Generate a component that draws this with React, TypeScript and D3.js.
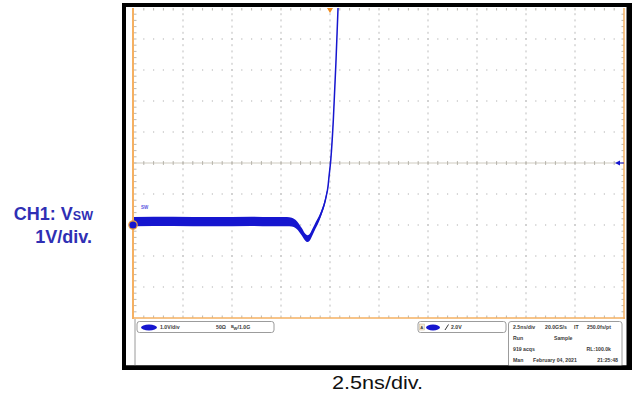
import React from 'react';
import * as d3 from 'd3';

const W = 632;
const H = 396;

// Horizontal scale: 10 divisions at 2.5 ns/div, trigger 4 divisions from the left edge
const timeDomain = [-10, 15];
// Vertical scale: 10 divisions at 1 V/div, ground 3 divisions above the bottom
const voltDomain = [-3, 7];

// V_SW trace: time (ns), mean level (V) and half-width of the noise band (V)
const traceTime = [-10, -8, -6, -4, -3, -2.2, -1.95, -1.7, -1.44, -1.28, -1.15, -1.05, -0.93, -0.8, -0.68, -0.55, -0.42, -0.3, -0.2, -0.1, -0.05, 0.04, 0.17, 0.3, 0.41, 0.5];
const traceLevel = [0.11, 0.12, 0.11, 0.12, 0.11, 0.11, 0.09, 0.0, -0.22, -0.38, -0.44, -0.41, -0.27, -0.1, 0.05, 0.22, 0.43, 0.65, 0.91, 1.25, 1.56, 2.1, 3.39, 5.2, 7.0, 8.4];
const traceSpread = [0.15, 0.15, 0.15, 0.15, 0.15, 0.15, 0.14, 0.13, 0.12, 0.11, 0.11, 0.11, 0.11, 0.1, 0.1, 0.09, 0.08, 0.08, 0.07, 0.06, 0.05, 0.04, 0.03, 0.03, 0.03, 0.03];

const groundLevel = 0; // V
const triggerLevel = 2.0; // V
const triggerTime = 0; // ns

const channelLabel = 'CH1: V';
const channelSub = 'SW';
const scaleLabel = '1V/div.';
const timeLabel = '2.5ns/div.';

const chanBadge = ['1.0V/div', '50Ω', '/1.0G'];
const trigBadge = '2.0V';
const acqRow1 = ['2.5ns/div', '20.0GS/s', 'IT', '250.0fs/pt'];
const acqRow2 = ['Run', 'Sample'];
const acqRow3 = ['919 acqs', 'RL:100.0k'];
const acqRow4 = ['Man', 'February 04, 2021', '21:25:48'];

const BLUE = '#1616cf';
const ORANGE = '#f5b062';
const GRID = '#bdbdbd';
const LABEL = '#2f2fb4';
const INFO = '#3a3a3a';

export default function App() {
  const left = 134, right = 624, top = 8, bottom = 318;
  const x = d3.scaleLinear().domain(timeDomain).range([left, right]);
  const y = d3.scaleLinear().domain(voltDomain).range([bottom, top]);

  const rows = traceTime.map((t, i) => ({ t, v: traceLevel[i], s: traceSpread[i] }));
  const band = d3.area<any>()
    .x(d => x(d.t))
    .y0(d => y(d.v - d.s))
    .y1(d => y(d.v + d.s))
    .curve(d3.curveMonotoneX)(rows) || '';
  const mid = d3.line<any>()
    .x(d => x(d.t))
    .y(d => y(d.v))
    .curve(d3.curveMonotoneX)(rows) || '';

  const majorT = d3.range(timeDomain[0] + 2.5, timeDomain[1], 2.5);
  const majorV = d3.range(voltDomain[0] + 1, voltDomain[1], 1);
  const minorT = d3.range(timeDomain[0], timeDomain[1] + 0.001, 0.5);
  const minorV = d3.range(voltDomain[0], voltDomain[1] + 0.001, 0.2);
  const centerV = 2;

  const grid: React.ReactNode[] = [];
  majorV.forEach((v, i) => {
    if (Math.abs(v - centerV) < 1e-6) return;
    minorT.slice(1, -1).forEach((t, j) => {
      grid.push(<rect key={`h${i}-${j}`} x={x(t) - 0.6} y={y(v) - 0.6} width={1.2} height={1.2} fill={GRID} />);
    });
  });
  majorT.forEach((t, i) => {
    minorV.slice(1, -1).forEach((v, j) => {
      grid.push(<rect key={`v${i}-${j}`} x={x(t) - 0.5} y={y(v) - 1} width={1} height={2} fill={GRID} />);
    });
  });

  const ticks: React.ReactNode[] = [];
  minorT.slice(1, -1).forEach((t, j) => {
    const xx = x(t);
    ticks.push(<line key={`tt${j}`} x1={xx} x2={xx} y1={top} y2={top + 2.5} />);
    ticks.push(<line key={`tb${j}`} x1={xx} x2={xx} y1={bottom} y2={bottom - 2.5} />);
    ticks.push(<line key={`tc${j}`} x1={xx} x2={xx} y1={y(centerV) - 2} y2={y(centerV) + 2} />);
  });
  minorV.slice(1, -1).forEach((v, j) => {
    const yy = y(v);
    ticks.push(<line key={`tl${j}`} x1={left} x2={left + 2.5} y1={yy} y2={yy} />);
    ticks.push(<line key={`tr${j}`} x1={right} x2={right - 2.5} y1={yy} y2={yy} />);
  });

  const gx = left - 1;
  const gy = y(groundLevel);
  const ty = y(triggerLevel);
  const tx = x(triggerTime);

  const info = { fontFamily: 'Liberation Sans, Arial, sans-serif', fontSize: 5.2, fontWeight: 700, fill: INFO } as const;

  return (
    <svg width={W} height={H} viewBox={`0 0 ${W} ${H}`} style={{ position: 'absolute', left: 0, top: 0, background: '#fff' }}>
      <defs>
        <clipPath id="plotClip">
          <rect x={left} y={top} width={right - left} height={bottom - top} />
        </clipPath>
      </defs>

      {/* scope frame */}
      <rect x={122} y={3} width={510} height={367} fill="#000" />
      <rect x={126} y={7} width={500.5} height={358.5} fill="#fff" />

      {/* graticule */}
      <g>{grid}</g>
      <line x1={left} x2={right} y1={y(centerV)} y2={y(centerV)} stroke="#cfcbc0" strokeWidth={1} />
      <g stroke="#a9a69c" strokeWidth={0.8}>{ticks}</g>

      {/* trace */}
      <g clipPath="url(#plotClip)">
        <path d={band} fill={BLUE} />
        <path d={mid} fill="none" stroke={BLUE} strokeWidth={1.5} />
      </g>

      {/* plot border */}
      <line x1={left - 1} x2={left - 1} y1={top} y2={bottom + 1} stroke={ORANGE} strokeWidth={2} />
      <line x1={right} x2={right} y1={top} y2={bottom + 1} stroke={ORANGE} strokeWidth={1.5} />
      <line x1={left - 2} x2={right + 1} y1={bottom} y2={bottom} stroke={ORANGE} strokeWidth={1.5} />

      {/* trigger position and level markers */}
      <path d={`M${tx - 3},${top} L${tx + 3},${top} L${tx},${top + 5} Z`} fill="#f08a1c" />
      <path d={`M${right - 9},${ty} L${right - 4},${ty - 2.5} L${right - 4},${ty + 2.5} Z`} fill={BLUE} />
      <line x1={right - 5} x2={right} y1={ty} y2={ty} stroke={BLUE} strokeWidth={1} />

      {/* channel ground marker */}
      <circle cx={gx} cy={gy} r={4.2} fill={BLUE} stroke="#f0a23a" strokeWidth={1.2} />
      <text x={141} y={209} fontFamily="Liberation Sans, Arial, sans-serif" fontSize={4.5} fontWeight={700} fill="#5a5ae0">SW</text>

      {/* info panel */}
      <line x1={135} x2={135} y1={bottom + 1} y2={366} stroke="#9a9a9a" strokeWidth={1} />
      <rect x={137} y={321.5} width={137} height={11} rx={2.5} fill="#fff" stroke="#9c9c9c" strokeWidth={1} />
      <ellipse cx={149} cy={327.5} rx={8} ry={2.9} fill={BLUE} />
      <text {...info} x={160} y={329.4}>{chanBadge[0]}</text>
      <text {...info} x={216} y={329.4}>{chanBadge[1]}</text>
      <text {...info} x={231} y={327.6} fontSize={4}>B</text>
      <text {...info} x={233.4} y={330.2} fontSize={4}>W</text>
      <text {...info} x={237.6} y={329.4}>{chanBadge[2]}</text>

      <rect x={418} y={321.5} width={88} height={11} rx={2.5} fill="#fff" stroke="#9c9c9c" strokeWidth={1} />
      <rect x={419.5} y={324} width={5} height={6} fill="#f3ead8" stroke="#c9b48e" strokeWidth={0.5} />
      <text {...info} x={420.3} y={329.2} fontSize={4.2}>A</text>
      <ellipse cx={433} cy={327.5} rx={7} ry={2.9} fill={BLUE} />
      <line x1={445} x2={448.5} y1={330} y2={324.5} stroke="#222" strokeWidth={0.9} />
      <text {...info} x={451} y={329.4}>{trigBadge}</text>

      <rect x={508.5} y={321.5} width={113.5} height={46} rx={2.5} fill="#fff" stroke="#9c9c9c" strokeWidth={1} />
      <text {...info} x={513} y={329}>{acqRow1[0]}</text>
      <text {...info} x={545} y={329}>{acqRow1[1]}</text>
      <text {...info} x={574} y={329}>{acqRow1[2]}</text>
      <text {...info} x={587} y={329}>{acqRow1[3]}</text>
      <text {...info} x={513} y={340}>{acqRow2[0]}</text>
      <text {...info} x={554} y={340}>{acqRow2[1]}</text>
      <text {...info} x={513} y={351}>{acqRow3[0]}</text>
      <text {...info} x={611} y={351} textAnchor="end">{acqRow3[1]}</text>
      <text {...info} x={513} y={362}>{acqRow4[0]}</text>
      <text {...info} x={533} y={362}>{acqRow4[1]}</text>
      <text {...info} x={618} y={362} textAnchor="end">{acqRow4[2]}</text>

      {/* frame bottom edge over the panel */}
      <rect x={122} y={365.5} width={510} height={4.5} fill="#000" />

      {/* annotations */}
      <text x={93} y={219.5} textAnchor="end" fontFamily="Liberation Sans, Arial, sans-serif" fontWeight={700} fill={LABEL} fontSize={18}>
        {channelLabel}
        <tspan fontSize={12.5}>{channelSub}</tspan>
      </text>
      <text x={92} y={243} textAnchor="end" fontFamily="Liberation Sans, Arial, sans-serif" fontWeight={700} fill={LABEL} fontSize={18}>
        {scaleLabel}
      </text>
      <text x={377.5} y={389} textAnchor="middle" fontFamily="Liberation Sans, Arial, sans-serif" fontSize={19} fill="#111"
        textLength={91} lengthAdjust="spacingAndGlyphs">
        {timeLabel}
      </text>
    </svg>
  );
}
